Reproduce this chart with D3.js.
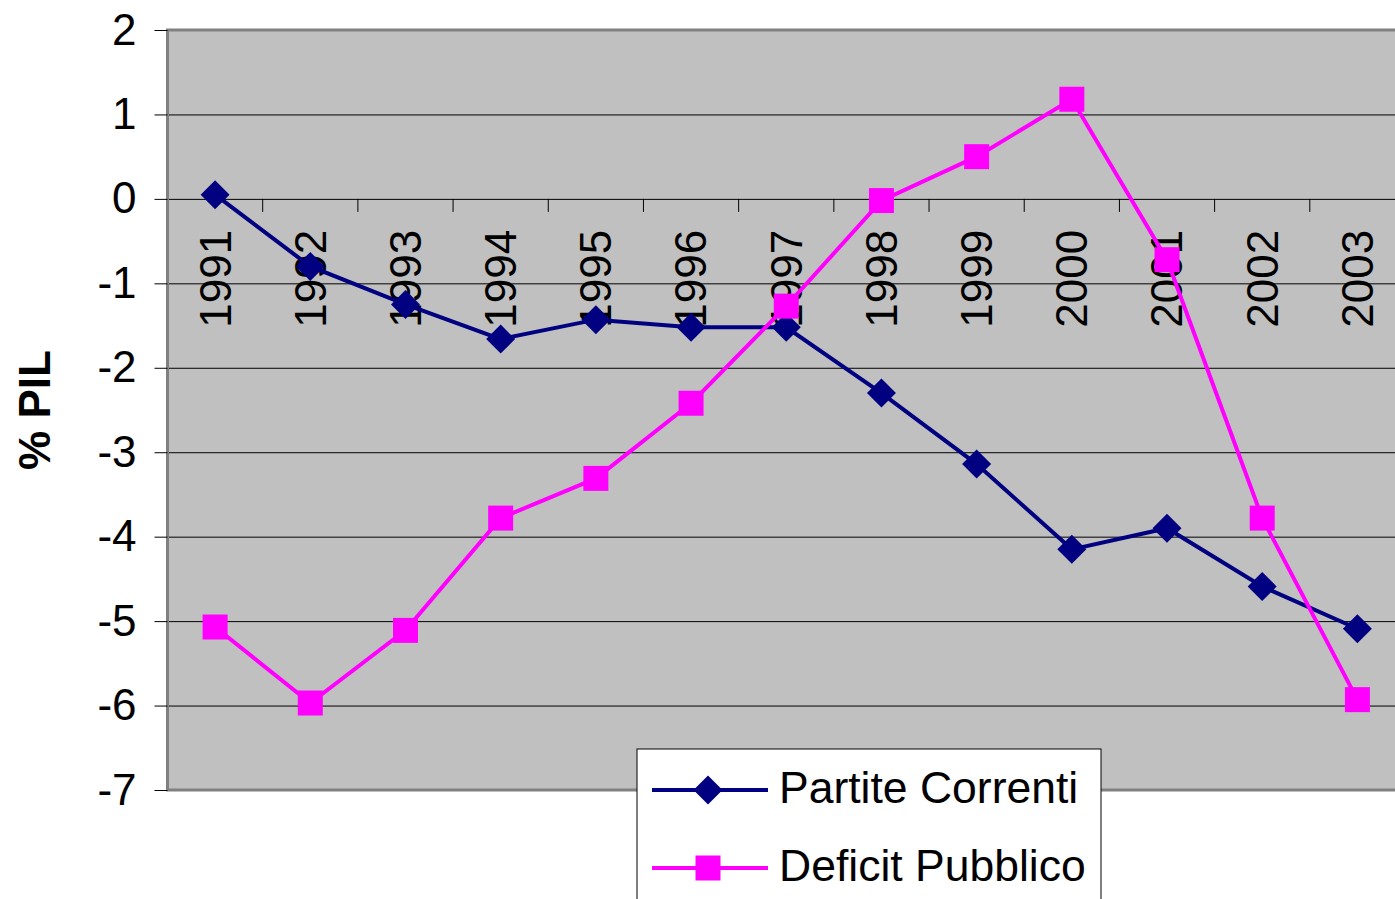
<!DOCTYPE html>
<html>
<head>
<meta charset="utf-8">
<script src="https://cdnjs.cloudflare.com/ajax/libs/d3/7.8.5/d3.min.js"></script>
<style>
    body { margin: 0; background: #fff; }
    svg { display: block; font-family: "Liberation Sans", Arial, sans-serif; }
    .tick text { font-size: 44px; fill: #000; }
</style>
</head>
<body>
<div id="chart"></div>
<script>
// Chart data
var years = ["1991", "1992", "1993", "1994", "1995", "1996", "1997", "1998", "1999", "2000", "2001", "2002", "2003"];
var partiteCorrenti = [0.05, -0.80, -1.25, -1.66, -1.43, -1.52, -1.52, -2.30, -3.14, -4.15, -3.90, -4.59, -5.09];
var deficitPubblico = [-5.07, -5.97, -5.11, -3.78, -3.31, -2.42, -1.27, -0.02, 0.50, 1.18, -0.72, -3.78, -5.93];
var yTicks = [2, 1, 0, -1, -2, -3, -4, -5, -6, -7];
var seriesNames = ["Partite Correnti", "Deficit Pubblico"];

(function() {
    var svgWidth = 1395,
        svgHeight = 899;

    var svg = d3.select("#chart").append("svg")
        .attr("width", svgWidth)
        .attr("height", svgHeight);

    // Scales (plot area runs past the right edge of the picture)
    var x = d3.scaleBand()
        .domain(years)
        .range([167.5, 1405])
        .padding(0);

    var y = d3.scaleLinear()
        .domain([-7, 2])
        .range([790, 30]);

    var xc = d => x(d) + x.bandwidth() / 2;

    // Plot background
    svg.append("rect")
        .attr("x", x.range()[0])
        .attr("y", y(2))
        .attr("width", x.range()[1] - x.range()[0])
        .attr("height", y(-7) - y(2))
        .attr("fill", "#c0c0c0");

    // Gridlines
    svg.append("g")
        .attr("transform", "translate(" + x.range()[0] + ",0)")
        .call(d3.axisLeft(y).tickValues(yTicks).tickSize(-(x.range()[1] - x.range()[0])).tickFormat(""))
        .call(g => g.select(".domain").remove())
        .call(g => g.selectAll("line").attr("stroke", "#000").attr("stroke-width", 1));

    // Plot border
    svg.append("rect")
        .attr("x", x.range()[0])
        .attr("y", y(2))
        .attr("width", x.range()[1] - x.range()[0])
        .attr("height", y(-7) - y(2))
        .attr("fill", "none")
        .attr("stroke", "#808080")
        .attr("stroke-width", 3);

    // Y axis (plain hyphen for negatives)
    svg.append("g")
        .attr("transform", "translate(" + x.range()[0] + ",0)")
        .call(d3.axisLeft(y).tickValues(yTicks).tickSize(13).tickPadding(18).tickFormat(d => String(d)))
        .call(g => g.select(".domain").remove())
        .call(g => g.selectAll("line").attr("stroke", "#000"))
        .call(g => g.selectAll("text").style("font-family", "'Liberation Sans', Arial, sans-serif"));

    // Y axis title
    svg.append("text")
        .attr("transform", "rotate(-90)")
        .attr("x", -410)
        .attr("y", 50)
        .style("text-anchor", "middle")
        .style("font-size", "44px")
        .style("font-weight", "bold")
        .text("% PIL");

    // Category axis on the zero line: tick marks between years
    svg.append("g")
        .selectAll("line")
        .data(years.slice(1))
        .join("line")
            .attr("x1", d => x(d))
            .attr("x2", d => x(d))
            .attr("y1", y(0))
            .attr("y2", y(0) + 13)
            .attr("stroke", "#000");

    var xAxis = svg.append("g")
        .attr("transform", "translate(0," + y(0) + ")")
        .call(d3.axisBottom(x).tickSize(0))
        .call(g => g.select(".domain").remove());

    xAxis.selectAll("text")
        .attr("transform", "rotate(-90)")
        .attr("x", -31)
        .attr("y", 0)
        .attr("dy", "0.35em")
        .style("text-anchor", "end")
        .style("font-family", "'Liberation Sans', Arial, sans-serif");

    // Lines
    var line = d3.line()
        .x((d, i) => xc(years[i]))
        .y(d => y(d));

    var diamond = d3.symbol().type(d3.symbolSquare).size(420);
    var square = d3.symbol().type(d3.symbolSquare).size(625);

    svg.append("path")
        .datum(partiteCorrenti)
        .attr("fill", "none")
        .attr("stroke", "#000080")
        .attr("stroke-width", 4)
        .attr("d", line);

    svg.append("path")
        .datum(deficitPubblico)
        .attr("fill", "none")
        .attr("stroke", "#ff00ff")
        .attr("stroke-width", 4)
        .attr("d", line);

    // Markers
    svg.append("g").selectAll("path")
        .data(partiteCorrenti)
        .join("path")
            .attr("d", diamond)
            .attr("fill", "#000080")
            .attr("transform", (d, i) => "translate(" + xc(years[i]) + "," + y(d) + ") rotate(45)");

    svg.append("g").selectAll("path")
        .data(deficitPubblico)
        .join("path")
            .attr("d", square)
            .attr("fill", "#ff00ff")
            .attr("transform", (d, i) => "translate(" + xc(years[i]) + "," + y(d) + ")");

    // Legend
    var legend = svg.append("g");

    legend.append("rect")
        .attr("x", 637)
        .attr("y", 749)
        .attr("width", 464)
        .attr("height", 170)
        .attr("fill", "#fff")
        .attr("stroke", "#000")
        .attr("stroke-width", 1);

    var rows = [
        { name: seriesNames[0], color: "#000080", sym: diamond, rot: 45, y: 790 },
        { name: seriesNames[1], color: "#ff00ff", sym: square, rot: 0, y: 868 }
    ];

    var item = legend.selectAll(".item")
        .data(rows)
        .join("g")
            .attr("class", "item")
            .attr("transform", d => "translate(0," + d.y + ")");

    item.append("line")
        .attr("x1", 652)
        .attr("x2", 768)
        .attr("stroke", d => d.color)
        .attr("stroke-width", 4);

    item.append("path")
        .attr("d", d => d.sym())
        .attr("fill", d => d.color)
        .attr("transform", d => "translate(708,0) rotate(" + d.rot + ")");

    item.append("text")
        .attr("x", 779)
        .attr("dy", "0.29em")
        .style("font-size", "44.5px")
        .text(d => d.name);
})();
</script>
</body>
</html>
